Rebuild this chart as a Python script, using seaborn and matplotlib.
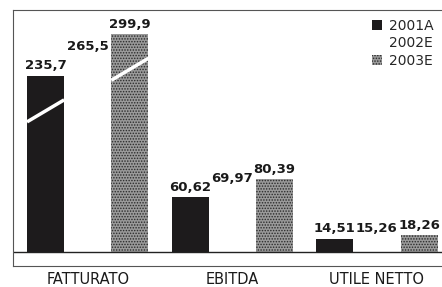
import numpy as np
import pandas as pd
import matplotlib
matplotlib.use('Agg')
import matplotlib.pyplot as plt
from matplotlib.patches import Patch
import seaborn as sns

# values
categories = ['FATTURATO', 'EBITDA', 'UTILE NETTO']
series = ['2001A', '2002E', '2003E']
v2001 = [235.7, 60.62, 14.51]
v2002 = [265.5, 69.97, 15.26]
v2003 = [299.9, 80.39, 18.26]

colors = {'2001A': '#1d1b1c', '2002E': '#ffffff', '2003E': '#9a9a9a'}
dots = '#2a2a2a'

df = pd.DataFrame({
    'voce': categories * 3,
    'anno': [s for s in series for _ in categories],
    'valore': v2001 + v2002 + v2003,
})

sns.set_style('white')
plt.rcParams['font.family'] = ['DejaVu Sans']
plt.rcParams['hatch.linewidth'] = 0.7

fig = plt.figure(figsize=(4.42, 2.87), dpi=100)
ax = fig.add_axes([13 / 442, 21 / 287, 429 / 442, 256 / 287])

sns.barplot(data=df, x='voce', y='valore', hue='anno', palette=colors,
            width=0.875, gap=0.12, saturation=1, errorbar=None,
            legend=False, ax=ax)

# broken scale: values above 90 are compressed (like the cut bars)
brk, k = 90, 0.715
def fwd(v):
    v = np.asarray(v, dtype=float)
    return np.where(v <= brk, v, brk + (v - brk) * k)
def inv(u):
    u = np.asarray(u, dtype=float)
    return np.where(u <= brk, u, brk + (u - brk) / k)

ax.set_yscale('function', functions=(fwd, inv))
ax.set_ylim(-15.4, float(inv(266.8)))
ax.set_xlim(-0.517, 2.45)

for cont in ax.containers:
    for p in cont.patches:
        p.set_linewidth(0)
for p in ax.containers[2].patches:
    p.set_hatch('......')
    p.set_edgecolor(dots)
    p.set_linewidth(0)

for cont, vals in zip(ax.containers, [v2001, v2002, v2003]):
    ax.bar_label(cont, labels=[str(v).replace('.', ',') for v in vals],
                 padding=2.5, fontsize=9.5, fontweight='bold', color='#1a1a1a')

ax.axhline(0, color='#222222', lw=1)

# white diagonal cuts on the FATTURATO bars
for cont in (ax.containers[0], ax.containers[2]):
    p = cont.patches[0]
    x0, x1 = p.get_x(), p.get_x() + p.get_width()
    top_px = ax.transData.transform((x0, p.get_height()))[1]
    pts = ax.transData.inverted().transform([(ax.transData.transform((x0, 0))[0], top_px - 46),
                                             (ax.transData.transform((x1, 0))[0], top_px - 24)])
    ax.plot([x0, x1], [pts[0][1], pts[1][1]], color='white', lw=2.5,
            solid_capstyle='butt')

ax.set_yticks([])
ax.set_xlabel('')
ax.set_ylabel('')
ax.tick_params(axis='x', length=0, pad=4, labelsize=10.5, labelcolor='#1a1a1a')
for side in ['left', 'top', 'bottom']:
    ax.spines[side].set_color('#555555')
    ax.spines[side].set_linewidth(0.8)
ax.spines['right'].set_visible(False)

handles = [Patch(facecolor=colors['2001A'], lw=0),
           Patch(facecolor=colors['2002E'], lw=0),
           Patch(facecolor=colors['2003E'], hatch='......', edgecolor=dots, lw=0)]
ax.legend(handles, series, loc='upper left', bbox_to_anchor=(372 / 442, 1 - 19 / 287),
          bbox_transform=fig.transFigure, frameon=False, fontsize=10,
          handlelength=0.75, handleheight=0.75, handletextpad=0.45,
          labelspacing=0.25, borderpad=0, borderaxespad=0)

fig.savefig('out.png', dpi=100)
